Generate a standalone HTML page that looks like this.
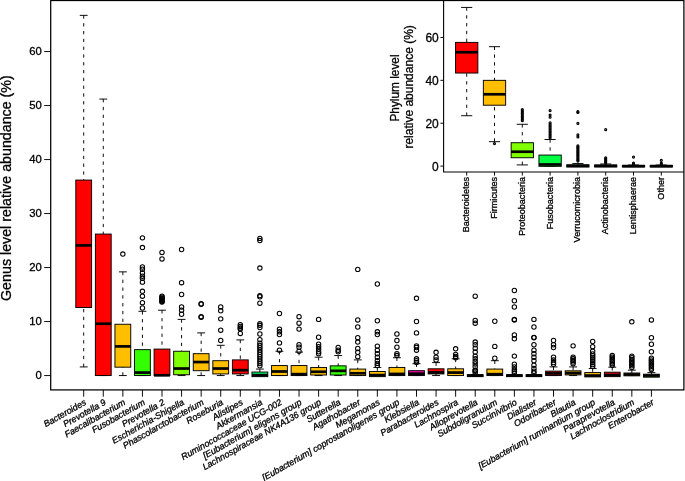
<!DOCTYPE html>
<html><head><meta charset="utf-8"><title>Genus level relative abundance</title>
<style>
html,body{margin:0;padding:0;background:#fff;}
body{width:685px;height:481px;overflow:hidden;position:relative;font-family:"Liberation Sans",sans-serif;}
svg text{font-family:"Liberation Sans",sans-serif;fill:#000;stroke:#000;stroke-width:0.3px;}
</style></head><body>
<svg width="685" height="481" viewBox="0 0 685 481" style="position:absolute;left:0;top:0;will-change:transform">
<rect width="685" height="481" fill="#fff"/>
<line x1="83.70" y1="15.37" x2="83.70" y2="180.07" stroke="#000" stroke-width="0.95" stroke-dasharray="3.3 4.5"/>
<line x1="83.70" y1="366.91" x2="83.70" y2="307.51" stroke="#000" stroke-width="0.95" stroke-dasharray="3.3 4.5"/>
<line x1="79.75" y1="15.37" x2="87.65" y2="15.37" stroke="#000" stroke-width="0.95"/>
<line x1="79.75" y1="366.91" x2="87.65" y2="366.91" stroke="#000" stroke-width="0.95"/>
<rect x="75.80" y="180.07" width="15.80" height="127.44" fill="#FF0000" stroke="#000" stroke-width="0.95"/>
<line x1="75.80" y1="245.41" x2="91.60" y2="245.41" stroke="#000" stroke-width="2.7"/>
<line x1="103.28" y1="99.07" x2="103.28" y2="234.07" stroke="#000" stroke-width="0.95" stroke-dasharray="3.3 4.5"/>
<line x1="99.33" y1="99.07" x2="107.23" y2="99.07" stroke="#000" stroke-width="0.95"/>
<line x1="99.33" y1="375.55" x2="107.23" y2="375.55" stroke="#000" stroke-width="0.95"/>
<rect x="95.38" y="234.07" width="15.80" height="141.48" fill="#FF0000" stroke="#000" stroke-width="0.95"/>
<line x1="95.38" y1="323.71" x2="111.18" y2="323.71" stroke="#000" stroke-width="2.7"/>
<line x1="122.85" y1="271.87" x2="122.85" y2="324.25" stroke="#000" stroke-width="0.95" stroke-dasharray="3.3 4.5"/>
<line x1="122.85" y1="375.55" x2="122.85" y2="367.18" stroke="#000" stroke-width="0.95" stroke-dasharray="3.3 4.5"/>
<line x1="118.90" y1="271.87" x2="126.80" y2="271.87" stroke="#000" stroke-width="0.95"/>
<line x1="118.90" y1="375.55" x2="126.80" y2="375.55" stroke="#000" stroke-width="0.95"/>
<rect x="114.95" y="324.25" width="15.80" height="42.93" fill="#FFBF00" stroke="#000" stroke-width="0.95"/>
<line x1="114.95" y1="346.39" x2="130.75" y2="346.39" stroke="#000" stroke-width="2.7"/>
<circle cx="122.85" cy="254.05" r="2.2" fill="none" stroke="#000" stroke-width="1.05"/>
<line x1="142.43" y1="311.29" x2="142.43" y2="349.63" stroke="#000" stroke-width="0.95" stroke-dasharray="3.3 4.5"/>
<line x1="138.48" y1="311.29" x2="146.38" y2="311.29" stroke="#000" stroke-width="0.95"/>
<line x1="138.48" y1="375.55" x2="146.38" y2="375.55" stroke="#000" stroke-width="0.95"/>
<rect x="134.53" y="349.63" width="15.80" height="25.92" fill="#33FF00" stroke="#000" stroke-width="0.95"/>
<line x1="134.53" y1="372.58" x2="150.33" y2="372.58" stroke="#000" stroke-width="2.7"/>
<circle cx="142.43" cy="237.85" r="2.2" fill="none" stroke="#000" stroke-width="1.05"/>
<circle cx="142.43" cy="247.57" r="2.2" fill="none" stroke="#000" stroke-width="1.05"/>
<circle cx="142.43" cy="267.01" r="2.2" fill="none" stroke="#000" stroke-width="1.05"/>
<circle cx="142.43" cy="269.17" r="2.2" fill="none" stroke="#000" stroke-width="1.05"/>
<circle cx="142.43" cy="272.95" r="2.2" fill="none" stroke="#000" stroke-width="1.05"/>
<circle cx="142.43" cy="276.19" r="2.2" fill="none" stroke="#000" stroke-width="1.05"/>
<circle cx="142.43" cy="278.35" r="2.2" fill="none" stroke="#000" stroke-width="1.05"/>
<circle cx="142.43" cy="282.13" r="2.2" fill="none" stroke="#000" stroke-width="1.05"/>
<circle cx="142.43" cy="291.31" r="2.2" fill="none" stroke="#000" stroke-width="1.05"/>
<circle cx="142.43" cy="296.17" r="2.2" fill="none" stroke="#000" stroke-width="1.05"/>
<circle cx="142.43" cy="302.65" r="2.2" fill="none" stroke="#000" stroke-width="1.05"/>
<circle cx="142.43" cy="308.05" r="2.2" fill="none" stroke="#000" stroke-width="1.05"/>
<line x1="162.00" y1="310.21" x2="162.00" y2="349.09" stroke="#000" stroke-width="0.95" stroke-dasharray="3.3 4.5"/>
<line x1="158.05" y1="310.21" x2="165.95" y2="310.21" stroke="#000" stroke-width="0.95"/>
<line x1="158.05" y1="375.55" x2="165.95" y2="375.55" stroke="#000" stroke-width="0.95"/>
<rect x="154.10" y="349.09" width="15.80" height="26.46" fill="#FF0000" stroke="#000" stroke-width="0.95"/>
<line x1="154.10" y1="375.28" x2="169.90" y2="375.28" stroke="#000" stroke-width="2.7"/>
<circle cx="162.00" cy="252.43" r="2.2" fill="none" stroke="#000" stroke-width="1.05"/>
<circle cx="162.00" cy="258.91" r="2.2" fill="none" stroke="#000" stroke-width="1.05"/>
<circle cx="162.00" cy="296.17" r="2.2" fill="none" stroke="#000" stroke-width="1.05"/>
<circle cx="162.00" cy="297.25" r="2.2" fill="none" stroke="#000" stroke-width="1.05"/>
<circle cx="162.00" cy="298.33" r="2.2" fill="none" stroke="#000" stroke-width="1.05"/>
<circle cx="162.00" cy="299.41" r="2.2" fill="none" stroke="#000" stroke-width="1.05"/>
<circle cx="162.00" cy="300.49" r="2.2" fill="none" stroke="#000" stroke-width="1.05"/>
<circle cx="162.00" cy="301.57" r="2.2" fill="none" stroke="#000" stroke-width="1.05"/>
<circle cx="162.00" cy="302.11" r="2.2" fill="none" stroke="#000" stroke-width="1.05"/>
<line x1="181.58" y1="319.39" x2="181.58" y2="351.25" stroke="#000" stroke-width="0.95" stroke-dasharray="3.3 4.5"/>
<line x1="181.58" y1="375.55" x2="181.58" y2="374.74" stroke="#000" stroke-width="0.95" stroke-dasharray="3.3 4.5"/>
<line x1="177.63" y1="319.39" x2="185.53" y2="319.39" stroke="#000" stroke-width="0.95"/>
<line x1="177.63" y1="375.55" x2="185.53" y2="375.55" stroke="#000" stroke-width="0.95"/>
<rect x="173.68" y="351.25" width="15.80" height="23.49" fill="#80FF00" stroke="#000" stroke-width="0.95"/>
<line x1="173.68" y1="368.53" x2="189.48" y2="368.53" stroke="#000" stroke-width="2.7"/>
<circle cx="181.58" cy="249.46" r="2.2" fill="none" stroke="#000" stroke-width="1.05"/>
<circle cx="181.58" cy="282.67" r="2.2" fill="none" stroke="#000" stroke-width="1.05"/>
<circle cx="181.58" cy="294.55" r="2.2" fill="none" stroke="#000" stroke-width="1.05"/>
<circle cx="181.58" cy="306.97" r="2.2" fill="none" stroke="#000" stroke-width="1.05"/>
<circle cx="181.58" cy="310.21" r="2.2" fill="none" stroke="#000" stroke-width="1.05"/>
<circle cx="181.58" cy="314.26" r="2.2" fill="none" stroke="#000" stroke-width="1.05"/>
<line x1="201.16" y1="332.89" x2="201.16" y2="353.68" stroke="#000" stroke-width="0.95" stroke-dasharray="3.3 4.5"/>
<line x1="201.16" y1="375.55" x2="201.16" y2="370.69" stroke="#000" stroke-width="0.95" stroke-dasharray="3.3 4.5"/>
<line x1="197.21" y1="332.89" x2="205.11" y2="332.89" stroke="#000" stroke-width="0.95"/>
<line x1="197.21" y1="375.55" x2="205.11" y2="375.55" stroke="#000" stroke-width="0.95"/>
<rect x="193.26" y="353.68" width="15.80" height="17.01" fill="#FFBF00" stroke="#000" stroke-width="0.95"/>
<line x1="193.26" y1="362.05" x2="209.06" y2="362.05" stroke="#000" stroke-width="2.7"/>
<circle cx="201.16" cy="303.73" r="2.2" fill="none" stroke="#000" stroke-width="1.05"/>
<circle cx="201.16" cy="304.27" r="2.2" fill="none" stroke="#000" stroke-width="1.05"/>
<circle cx="201.16" cy="316.69" r="2.2" fill="none" stroke="#000" stroke-width="1.05"/>
<circle cx="201.16" cy="317.23" r="2.2" fill="none" stroke="#000" stroke-width="1.05"/>
<line x1="220.73" y1="345.31" x2="220.73" y2="360.70" stroke="#000" stroke-width="0.95" stroke-dasharray="3.3 4.5"/>
<line x1="220.73" y1="375.55" x2="220.73" y2="373.93" stroke="#000" stroke-width="0.95" stroke-dasharray="3.3 4.5"/>
<line x1="216.78" y1="345.31" x2="224.68" y2="345.31" stroke="#000" stroke-width="0.95"/>
<line x1="216.78" y1="375.55" x2="224.68" y2="375.55" stroke="#000" stroke-width="0.95"/>
<rect x="212.83" y="360.70" width="15.80" height="13.23" fill="#FFBF00" stroke="#000" stroke-width="0.95"/>
<line x1="212.83" y1="368.53" x2="228.63" y2="368.53" stroke="#000" stroke-width="2.7"/>
<circle cx="220.73" cy="306.97" r="2.2" fill="none" stroke="#000" stroke-width="1.05"/>
<circle cx="220.73" cy="310.75" r="2.2" fill="none" stroke="#000" stroke-width="1.05"/>
<circle cx="220.73" cy="318.85" r="2.2" fill="none" stroke="#000" stroke-width="1.05"/>
<circle cx="220.73" cy="330.19" r="2.2" fill="none" stroke="#000" stroke-width="1.05"/>
<circle cx="220.73" cy="340.45" r="2.2" fill="none" stroke="#000" stroke-width="1.05"/>
<line x1="240.31" y1="339.91" x2="240.31" y2="359.89" stroke="#000" stroke-width="0.95" stroke-dasharray="3.3 4.5"/>
<line x1="240.31" y1="375.55" x2="240.31" y2="373.93" stroke="#000" stroke-width="0.95" stroke-dasharray="3.3 4.5"/>
<line x1="236.36" y1="339.91" x2="244.26" y2="339.91" stroke="#000" stroke-width="0.95"/>
<line x1="236.36" y1="375.55" x2="244.26" y2="375.55" stroke="#000" stroke-width="0.95"/>
<rect x="232.41" y="359.89" width="15.80" height="14.04" fill="#FF0000" stroke="#000" stroke-width="0.95"/>
<line x1="232.41" y1="370.15" x2="248.21" y2="370.15" stroke="#000" stroke-width="2.7"/>
<circle cx="240.31" cy="324.79" r="2.2" fill="none" stroke="#000" stroke-width="1.05"/>
<circle cx="240.31" cy="326.41" r="2.2" fill="none" stroke="#000" stroke-width="1.05"/>
<circle cx="240.31" cy="328.03" r="2.2" fill="none" stroke="#000" stroke-width="1.05"/>
<circle cx="240.31" cy="329.11" r="2.2" fill="none" stroke="#000" stroke-width="1.05"/>
<circle cx="240.31" cy="333.43" r="2.2" fill="none" stroke="#000" stroke-width="1.05"/>
<line x1="259.88" y1="369.07" x2="259.88" y2="372.04" stroke="#000" stroke-width="0.95" stroke-dasharray="3.3 4.5"/>
<line x1="255.93" y1="369.07" x2="263.83" y2="369.07" stroke="#000" stroke-width="0.95"/>
<line x1="255.93" y1="375.55" x2="263.83" y2="375.55" stroke="#000" stroke-width="0.95"/>
<rect x="251.98" y="372.04" width="15.80" height="4.59" fill="#00FF66" stroke="#000" stroke-width="0.95"/>
<line x1="251.98" y1="375.12" x2="267.78" y2="375.12" stroke="#000" stroke-width="2.7"/>
<circle cx="259.88" cy="238.39" r="2.2" fill="none" stroke="#000" stroke-width="1.05"/>
<circle cx="259.88" cy="240.55" r="2.2" fill="none" stroke="#000" stroke-width="1.05"/>
<circle cx="259.88" cy="268.09" r="2.2" fill="none" stroke="#000" stroke-width="1.05"/>
<circle cx="259.88" cy="295.63" r="2.2" fill="none" stroke="#000" stroke-width="1.05"/>
<circle cx="259.88" cy="296.71" r="2.2" fill="none" stroke="#000" stroke-width="1.05"/>
<circle cx="259.88" cy="303.19" r="2.2" fill="none" stroke="#000" stroke-width="1.05"/>
<circle cx="259.88" cy="323.71" r="2.2" fill="none" stroke="#000" stroke-width="1.05"/>
<circle cx="259.88" cy="325.33" r="2.2" fill="none" stroke="#000" stroke-width="1.05"/>
<circle cx="259.88" cy="327.49" r="2.2" fill="none" stroke="#000" stroke-width="1.05"/>
<circle cx="259.88" cy="333.97" r="2.2" fill="none" stroke="#000" stroke-width="1.05"/>
<circle cx="259.88" cy="339.64" r="2.2" fill="none" stroke="#000" stroke-width="1.05"/>
<circle cx="259.88" cy="343.15" r="2.2" fill="none" stroke="#000" stroke-width="1.05"/>
<circle cx="259.88" cy="345.42" r="2.2" fill="none" stroke="#000" stroke-width="1.05"/>
<circle cx="259.88" cy="347.69" r="2.2" fill="none" stroke="#000" stroke-width="1.05"/>
<circle cx="259.88" cy="349.95" r="2.2" fill="none" stroke="#000" stroke-width="1.05"/>
<circle cx="259.88" cy="352.22" r="2.2" fill="none" stroke="#000" stroke-width="1.05"/>
<circle cx="259.88" cy="354.49" r="2.2" fill="none" stroke="#000" stroke-width="1.05"/>
<circle cx="259.88" cy="356.76" r="2.2" fill="none" stroke="#000" stroke-width="1.05"/>
<circle cx="259.88" cy="359.03" r="2.2" fill="none" stroke="#000" stroke-width="1.05"/>
<circle cx="259.88" cy="361.29" r="2.2" fill="none" stroke="#000" stroke-width="1.05"/>
<circle cx="259.88" cy="363.56" r="2.2" fill="none" stroke="#000" stroke-width="1.05"/>
<circle cx="259.88" cy="365.83" r="2.2" fill="none" stroke="#000" stroke-width="1.05"/>
<line x1="279.46" y1="351.25" x2="279.46" y2="365.56" stroke="#000" stroke-width="0.95" stroke-dasharray="3.3 4.5"/>
<line x1="275.51" y1="351.25" x2="283.41" y2="351.25" stroke="#000" stroke-width="0.95"/>
<line x1="275.51" y1="375.55" x2="283.41" y2="375.55" stroke="#000" stroke-width="0.95"/>
<rect x="271.56" y="365.56" width="15.80" height="9.99" fill="#FFBF00" stroke="#000" stroke-width="0.95"/>
<line x1="271.56" y1="371.50" x2="287.36" y2="371.50" stroke="#000" stroke-width="2.7"/>
<circle cx="279.46" cy="313.45" r="2.2" fill="none" stroke="#000" stroke-width="1.05"/>
<circle cx="279.46" cy="329.11" r="2.2" fill="none" stroke="#000" stroke-width="1.05"/>
<circle cx="279.46" cy="331.81" r="2.2" fill="none" stroke="#000" stroke-width="1.05"/>
<circle cx="279.46" cy="334.51" r="2.2" fill="none" stroke="#000" stroke-width="1.05"/>
<circle cx="279.46" cy="342.88" r="2.2" fill="none" stroke="#000" stroke-width="1.05"/>
<circle cx="279.46" cy="350.17" r="2.2" fill="none" stroke="#000" stroke-width="1.05"/>
<line x1="299.04" y1="352.06" x2="299.04" y2="365.56" stroke="#000" stroke-width="0.95" stroke-dasharray="3.3 4.5"/>
<line x1="295.09" y1="352.06" x2="302.99" y2="352.06" stroke="#000" stroke-width="0.95"/>
<line x1="295.09" y1="375.55" x2="302.99" y2="375.55" stroke="#000" stroke-width="0.95"/>
<rect x="291.14" y="365.56" width="15.80" height="9.99" fill="#FFBF00" stroke="#000" stroke-width="0.95"/>
<line x1="291.14" y1="374.15" x2="306.94" y2="374.15" stroke="#000" stroke-width="2.7"/>
<circle cx="299.04" cy="316.69" r="2.2" fill="none" stroke="#000" stroke-width="1.05"/>
<circle cx="299.04" cy="323.17" r="2.2" fill="none" stroke="#000" stroke-width="1.05"/>
<circle cx="299.04" cy="329.11" r="2.2" fill="none" stroke="#000" stroke-width="1.05"/>
<circle cx="299.04" cy="344.77" r="2.2" fill="none" stroke="#000" stroke-width="1.05"/>
<circle cx="299.04" cy="347.20" r="2.2" fill="none" stroke="#000" stroke-width="1.05"/>
<circle cx="299.04" cy="351.25" r="2.2" fill="none" stroke="#000" stroke-width="1.05"/>
<line x1="318.61" y1="357.19" x2="318.61" y2="367.45" stroke="#000" stroke-width="0.95" stroke-dasharray="3.3 4.5"/>
<line x1="318.61" y1="375.55" x2="318.61" y2="375.01" stroke="#000" stroke-width="0.95" stroke-dasharray="3.3 4.5"/>
<line x1="314.66" y1="357.19" x2="322.56" y2="357.19" stroke="#000" stroke-width="0.95"/>
<line x1="314.66" y1="375.55" x2="322.56" y2="375.55" stroke="#000" stroke-width="0.95"/>
<rect x="310.71" y="367.45" width="15.80" height="7.56" fill="#FFBF00" stroke="#000" stroke-width="0.95"/>
<line x1="310.71" y1="371.77" x2="326.51" y2="371.77" stroke="#000" stroke-width="2.7"/>
<circle cx="318.61" cy="319.39" r="2.2" fill="none" stroke="#000" stroke-width="1.05"/>
<circle cx="318.61" cy="337.21" r="2.2" fill="none" stroke="#000" stroke-width="1.05"/>
<circle cx="318.61" cy="344.23" r="2.2" fill="none" stroke="#000" stroke-width="1.05"/>
<circle cx="318.61" cy="346.66" r="2.2" fill="none" stroke="#000" stroke-width="1.05"/>
<circle cx="318.61" cy="349.09" r="2.2" fill="none" stroke="#000" stroke-width="1.05"/>
<circle cx="318.61" cy="351.79" r="2.2" fill="none" stroke="#000" stroke-width="1.05"/>
<circle cx="318.61" cy="353.68" r="2.2" fill="none" stroke="#000" stroke-width="1.05"/>
<line x1="338.19" y1="355.57" x2="338.19" y2="365.83" stroke="#000" stroke-width="0.95" stroke-dasharray="3.3 4.5"/>
<line x1="338.19" y1="375.55" x2="338.19" y2="375.01" stroke="#000" stroke-width="0.95" stroke-dasharray="3.3 4.5"/>
<line x1="334.24" y1="355.57" x2="342.14" y2="355.57" stroke="#000" stroke-width="0.95"/>
<line x1="334.24" y1="375.55" x2="342.14" y2="375.55" stroke="#000" stroke-width="0.95"/>
<rect x="330.29" y="365.83" width="15.80" height="9.18" fill="#33FF00" stroke="#000" stroke-width="0.95"/>
<line x1="330.29" y1="370.85" x2="346.09" y2="370.85" stroke="#000" stroke-width="2.7"/>
<circle cx="338.19" cy="347.47" r="2.2" fill="none" stroke="#000" stroke-width="1.05"/>
<circle cx="338.19" cy="350.17" r="2.2" fill="none" stroke="#000" stroke-width="1.05"/>
<circle cx="338.19" cy="351.79" r="2.2" fill="none" stroke="#000" stroke-width="1.05"/>
<line x1="357.76" y1="359.89" x2="357.76" y2="369.07" stroke="#000" stroke-width="0.95" stroke-dasharray="3.3 4.5"/>
<line x1="353.81" y1="359.89" x2="361.71" y2="359.89" stroke="#000" stroke-width="0.95"/>
<line x1="353.81" y1="375.55" x2="361.71" y2="375.55" stroke="#000" stroke-width="0.95"/>
<rect x="349.86" y="369.07" width="15.80" height="6.48" fill="#FFBF00" stroke="#000" stroke-width="0.95"/>
<line x1="349.86" y1="373.28" x2="365.66" y2="373.28" stroke="#000" stroke-width="2.7"/>
<circle cx="357.76" cy="269.39" r="2.2" fill="none" stroke="#000" stroke-width="1.05"/>
<circle cx="357.76" cy="319.93" r="2.2" fill="none" stroke="#000" stroke-width="1.05"/>
<circle cx="357.76" cy="326.95" r="2.2" fill="none" stroke="#000" stroke-width="1.05"/>
<circle cx="357.76" cy="337.75" r="2.2" fill="none" stroke="#000" stroke-width="1.05"/>
<circle cx="357.76" cy="342.07" r="2.2" fill="none" stroke="#000" stroke-width="1.05"/>
<circle cx="357.76" cy="348.55" r="2.2" fill="none" stroke="#000" stroke-width="1.05"/>
<circle cx="357.76" cy="352.33" r="2.2" fill="none" stroke="#000" stroke-width="1.05"/>
<circle cx="357.76" cy="356.65" r="2.2" fill="none" stroke="#000" stroke-width="1.05"/>
<line x1="377.34" y1="367.45" x2="377.34" y2="371.50" stroke="#000" stroke-width="0.95" stroke-dasharray="3.3 4.5"/>
<line x1="373.39" y1="367.45" x2="381.29" y2="367.45" stroke="#000" stroke-width="0.95"/>
<line x1="373.39" y1="375.55" x2="381.29" y2="375.55" stroke="#000" stroke-width="0.95"/>
<rect x="369.44" y="371.50" width="15.80" height="5.13" fill="#FFBF00" stroke="#000" stroke-width="0.95"/>
<line x1="369.44" y1="375.12" x2="385.24" y2="375.12" stroke="#000" stroke-width="2.7"/>
<circle cx="377.34" cy="284.02" r="2.2" fill="none" stroke="#000" stroke-width="1.05"/>
<circle cx="377.34" cy="320.74" r="2.2" fill="none" stroke="#000" stroke-width="1.05"/>
<circle cx="377.34" cy="331.81" r="2.2" fill="none" stroke="#000" stroke-width="1.05"/>
<circle cx="377.34" cy="334.51" r="2.2" fill="none" stroke="#000" stroke-width="1.05"/>
<circle cx="377.34" cy="346.12" r="2.2" fill="none" stroke="#000" stroke-width="1.05"/>
<circle cx="377.34" cy="350.17" r="2.2" fill="none" stroke="#000" stroke-width="1.05"/>
<circle cx="377.34" cy="353.68" r="2.2" fill="none" stroke="#000" stroke-width="1.05"/>
<circle cx="377.34" cy="357.19" r="2.2" fill="none" stroke="#000" stroke-width="1.05"/>
<circle cx="377.34" cy="360.70" r="2.2" fill="none" stroke="#000" stroke-width="1.05"/>
<circle cx="377.34" cy="363.40" r="2.2" fill="none" stroke="#000" stroke-width="1.05"/>
<circle cx="377.34" cy="365.56" r="2.2" fill="none" stroke="#000" stroke-width="1.05"/>
<line x1="396.92" y1="357.73" x2="396.92" y2="367.45" stroke="#000" stroke-width="0.95" stroke-dasharray="3.3 4.5"/>
<line x1="392.97" y1="357.73" x2="400.87" y2="357.73" stroke="#000" stroke-width="0.95"/>
<line x1="392.97" y1="375.55" x2="400.87" y2="375.55" stroke="#000" stroke-width="0.95"/>
<rect x="389.02" y="367.45" width="15.80" height="8.10" fill="#FFBF00" stroke="#000" stroke-width="0.95"/>
<line x1="389.02" y1="373.93" x2="404.82" y2="373.93" stroke="#000" stroke-width="2.7"/>
<circle cx="396.92" cy="333.97" r="2.2" fill="none" stroke="#000" stroke-width="1.05"/>
<circle cx="396.92" cy="340.45" r="2.2" fill="none" stroke="#000" stroke-width="1.05"/>
<circle cx="396.92" cy="347.20" r="2.2" fill="none" stroke="#000" stroke-width="1.05"/>
<circle cx="396.92" cy="353.68" r="2.2" fill="none" stroke="#000" stroke-width="1.05"/>
<circle cx="396.92" cy="355.57" r="2.2" fill="none" stroke="#000" stroke-width="1.05"/>
<line x1="416.49" y1="363.67" x2="416.49" y2="370.69" stroke="#000" stroke-width="0.95" stroke-dasharray="3.3 4.5"/>
<line x1="412.54" y1="363.67" x2="420.44" y2="363.67" stroke="#000" stroke-width="0.95"/>
<line x1="412.54" y1="375.55" x2="420.44" y2="375.55" stroke="#000" stroke-width="0.95"/>
<rect x="408.59" y="370.69" width="15.80" height="4.86" fill="#FF00AA" stroke="#000" stroke-width="0.95"/>
<line x1="408.59" y1="373.66" x2="424.39" y2="373.66" stroke="#000" stroke-width="2.7"/>
<circle cx="416.49" cy="298.33" r="2.2" fill="none" stroke="#000" stroke-width="1.05"/>
<circle cx="416.49" cy="321.55" r="2.2" fill="none" stroke="#000" stroke-width="1.05"/>
<circle cx="416.49" cy="332.89" r="2.2" fill="none" stroke="#000" stroke-width="1.05"/>
<circle cx="416.49" cy="345.85" r="2.2" fill="none" stroke="#000" stroke-width="1.05"/>
<circle cx="416.49" cy="347.47" r="2.2" fill="none" stroke="#000" stroke-width="1.05"/>
<circle cx="416.49" cy="350.17" r="2.2" fill="none" stroke="#000" stroke-width="1.05"/>
<circle cx="416.49" cy="358.81" r="2.2" fill="none" stroke="#000" stroke-width="1.05"/>
<circle cx="416.49" cy="360.70" r="2.2" fill="none" stroke="#000" stroke-width="1.05"/>
<circle cx="416.49" cy="362.59" r="2.2" fill="none" stroke="#000" stroke-width="1.05"/>
<line x1="436.07" y1="362.59" x2="436.07" y2="368.80" stroke="#000" stroke-width="0.95" stroke-dasharray="3.3 4.5"/>
<line x1="436.07" y1="375.55" x2="436.07" y2="373.93" stroke="#000" stroke-width="0.95" stroke-dasharray="3.3 4.5"/>
<line x1="432.12" y1="362.59" x2="440.02" y2="362.59" stroke="#000" stroke-width="0.95"/>
<line x1="432.12" y1="375.55" x2="440.02" y2="375.55" stroke="#000" stroke-width="0.95"/>
<rect x="428.17" y="368.80" width="15.80" height="5.13" fill="#FF0000" stroke="#000" stroke-width="0.95"/>
<line x1="428.17" y1="372.42" x2="443.97" y2="372.42" stroke="#000" stroke-width="2.7"/>
<circle cx="436.07" cy="352.33" r="2.2" fill="none" stroke="#000" stroke-width="1.05"/>
<circle cx="436.07" cy="357.19" r="2.2" fill="none" stroke="#000" stroke-width="1.05"/>
<circle cx="436.07" cy="359.89" r="2.2" fill="none" stroke="#000" stroke-width="1.05"/>
<line x1="455.64" y1="358.81" x2="455.64" y2="368.80" stroke="#000" stroke-width="0.95" stroke-dasharray="3.3 4.5"/>
<line x1="451.69" y1="358.81" x2="459.59" y2="358.81" stroke="#000" stroke-width="0.95"/>
<line x1="451.69" y1="375.55" x2="459.59" y2="375.55" stroke="#000" stroke-width="0.95"/>
<rect x="447.74" y="368.80" width="15.80" height="6.75" fill="#FFBF00" stroke="#000" stroke-width="0.95"/>
<line x1="447.74" y1="372.58" x2="463.54" y2="372.58" stroke="#000" stroke-width="2.7"/>
<circle cx="455.64" cy="348.82" r="2.2" fill="none" stroke="#000" stroke-width="1.05"/>
<circle cx="455.64" cy="354.49" r="2.2" fill="none" stroke="#000" stroke-width="1.05"/>
<circle cx="455.64" cy="356.38" r="2.2" fill="none" stroke="#000" stroke-width="1.05"/>
<circle cx="455.64" cy="357.73" r="2.2" fill="none" stroke="#000" stroke-width="1.05"/>
<line x1="471.27" y1="374.74" x2="479.17" y2="374.74" stroke="#000" stroke-width="0.95"/>
<line x1="471.27" y1="375.55" x2="479.17" y2="375.55" stroke="#000" stroke-width="0.95"/>
<rect x="467.32" y="374.74" width="15.80" height="1.89" fill="#FF0000" stroke="#000" stroke-width="0.95"/>
<line x1="467.32" y1="375.55" x2="483.12" y2="375.55" stroke="#000" stroke-width="2.7"/>
<circle cx="475.22" cy="296.17" r="2.2" fill="none" stroke="#000" stroke-width="1.05"/>
<circle cx="475.22" cy="320.47" r="2.2" fill="none" stroke="#000" stroke-width="1.05"/>
<circle cx="475.22" cy="323.17" r="2.2" fill="none" stroke="#000" stroke-width="1.05"/>
<circle cx="475.22" cy="342.07" r="2.2" fill="none" stroke="#000" stroke-width="1.05"/>
<circle cx="475.22" cy="344.77" r="2.2" fill="none" stroke="#000" stroke-width="1.05"/>
<circle cx="475.22" cy="348.28" r="2.2" fill="none" stroke="#000" stroke-width="1.05"/>
<circle cx="475.22" cy="352.06" r="2.2" fill="none" stroke="#000" stroke-width="1.05"/>
<circle cx="475.22" cy="356.11" r="2.2" fill="none" stroke="#000" stroke-width="1.05"/>
<circle cx="475.22" cy="358.81" r="2.2" fill="none" stroke="#000" stroke-width="1.05"/>
<circle cx="475.22" cy="361.51" r="2.2" fill="none" stroke="#000" stroke-width="1.05"/>
<circle cx="475.22" cy="363.94" r="2.2" fill="none" stroke="#000" stroke-width="1.05"/>
<circle cx="475.22" cy="366.64" r="2.2" fill="none" stroke="#000" stroke-width="1.05"/>
<circle cx="475.22" cy="370.15" r="2.2" fill="none" stroke="#000" stroke-width="1.05"/>
<circle cx="475.22" cy="370.42" r="2.2" fill="none" stroke="#000" stroke-width="1.05"/>
<circle cx="475.22" cy="371.23" r="2.2" fill="none" stroke="#000" stroke-width="1.05"/>
<circle cx="475.22" cy="372.85" r="2.2" fill="none" stroke="#000" stroke-width="1.05"/>
<line x1="494.80" y1="360.70" x2="494.80" y2="369.07" stroke="#000" stroke-width="0.95" stroke-dasharray="3.3 4.5"/>
<line x1="490.85" y1="360.70" x2="498.75" y2="360.70" stroke="#000" stroke-width="0.95"/>
<line x1="490.85" y1="375.55" x2="498.75" y2="375.55" stroke="#000" stroke-width="0.95"/>
<rect x="486.90" y="369.07" width="15.80" height="6.48" fill="#FFBF00" stroke="#000" stroke-width="0.95"/>
<line x1="486.90" y1="374.20" x2="502.70" y2="374.20" stroke="#000" stroke-width="2.7"/>
<circle cx="494.80" cy="321.28" r="2.2" fill="none" stroke="#000" stroke-width="1.05"/>
<circle cx="494.80" cy="346.39" r="2.2" fill="none" stroke="#000" stroke-width="1.05"/>
<circle cx="494.80" cy="358.27" r="2.2" fill="none" stroke="#000" stroke-width="1.05"/>
<line x1="510.42" y1="374.74" x2="518.32" y2="374.74" stroke="#000" stroke-width="0.95"/>
<line x1="510.42" y1="375.55" x2="518.32" y2="375.55" stroke="#000" stroke-width="0.95"/>
<rect x="506.47" y="374.74" width="15.80" height="1.89" fill="#80FF00" stroke="#000" stroke-width="0.95"/>
<line x1="506.47" y1="375.55" x2="522.27" y2="375.55" stroke="#000" stroke-width="2.7"/>
<circle cx="514.37" cy="290.50" r="2.2" fill="none" stroke="#000" stroke-width="1.05"/>
<circle cx="514.37" cy="300.76" r="2.2" fill="none" stroke="#000" stroke-width="1.05"/>
<circle cx="514.37" cy="306.97" r="2.2" fill="none" stroke="#000" stroke-width="1.05"/>
<circle cx="514.37" cy="319.39" r="2.2" fill="none" stroke="#000" stroke-width="1.05"/>
<circle cx="514.37" cy="319.93" r="2.2" fill="none" stroke="#000" stroke-width="1.05"/>
<circle cx="514.37" cy="335.05" r="2.2" fill="none" stroke="#000" stroke-width="1.05"/>
<circle cx="514.37" cy="338.83" r="2.2" fill="none" stroke="#000" stroke-width="1.05"/>
<circle cx="514.37" cy="356.11" r="2.2" fill="none" stroke="#000" stroke-width="1.05"/>
<circle cx="514.37" cy="364.21" r="2.2" fill="none" stroke="#000" stroke-width="1.05"/>
<circle cx="514.37" cy="366.91" r="2.2" fill="none" stroke="#000" stroke-width="1.05"/>
<circle cx="514.37" cy="369.61" r="2.2" fill="none" stroke="#000" stroke-width="1.05"/>
<circle cx="514.37" cy="371.23" r="2.2" fill="none" stroke="#000" stroke-width="1.05"/>
<circle cx="514.37" cy="372.85" r="2.2" fill="none" stroke="#000" stroke-width="1.05"/>
<line x1="530.00" y1="374.74" x2="537.90" y2="374.74" stroke="#000" stroke-width="0.95"/>
<line x1="530.00" y1="375.55" x2="537.90" y2="375.55" stroke="#000" stroke-width="0.95"/>
<rect x="526.05" y="374.74" width="15.80" height="1.89" fill="#FFBF00" stroke="#000" stroke-width="0.95"/>
<line x1="526.05" y1="375.55" x2="541.85" y2="375.55" stroke="#000" stroke-width="2.7"/>
<circle cx="533.95" cy="319.39" r="2.2" fill="none" stroke="#000" stroke-width="1.05"/>
<circle cx="533.95" cy="326.95" r="2.2" fill="none" stroke="#000" stroke-width="1.05"/>
<circle cx="533.95" cy="337.37" r="2.2" fill="none" stroke="#000" stroke-width="1.05"/>
<circle cx="533.95" cy="337.75" r="2.2" fill="none" stroke="#000" stroke-width="1.05"/>
<circle cx="533.95" cy="344.77" r="2.2" fill="none" stroke="#000" stroke-width="1.05"/>
<circle cx="533.95" cy="350.17" r="2.2" fill="none" stroke="#000" stroke-width="1.05"/>
<circle cx="533.95" cy="353.68" r="2.2" fill="none" stroke="#000" stroke-width="1.05"/>
<circle cx="533.95" cy="357.19" r="2.2" fill="none" stroke="#000" stroke-width="1.05"/>
<circle cx="533.95" cy="360.70" r="2.2" fill="none" stroke="#000" stroke-width="1.05"/>
<circle cx="533.95" cy="365.29" r="2.2" fill="none" stroke="#000" stroke-width="1.05"/>
<circle cx="533.95" cy="368.53" r="2.2" fill="none" stroke="#000" stroke-width="1.05"/>
<circle cx="533.95" cy="371.23" r="2.2" fill="none" stroke="#000" stroke-width="1.05"/>
<circle cx="533.95" cy="372.85" r="2.2" fill="none" stroke="#000" stroke-width="1.05"/>
<line x1="553.52" y1="366.91" x2="553.52" y2="371.12" stroke="#000" stroke-width="0.95" stroke-dasharray="3.3 4.5"/>
<line x1="549.57" y1="366.91" x2="557.47" y2="366.91" stroke="#000" stroke-width="0.95"/>
<line x1="549.57" y1="375.55" x2="557.47" y2="375.55" stroke="#000" stroke-width="0.95"/>
<rect x="545.62" y="371.12" width="15.80" height="4.43" fill="#FF0000" stroke="#000" stroke-width="0.95"/>
<line x1="545.62" y1="373.39" x2="561.42" y2="373.39" stroke="#000" stroke-width="2.7"/>
<circle cx="553.52" cy="340.45" r="2.2" fill="none" stroke="#000" stroke-width="1.05"/>
<circle cx="553.52" cy="344.77" r="2.2" fill="none" stroke="#000" stroke-width="1.05"/>
<circle cx="553.52" cy="347.47" r="2.2" fill="none" stroke="#000" stroke-width="1.05"/>
<circle cx="553.52" cy="357.19" r="2.2" fill="none" stroke="#000" stroke-width="1.05"/>
<circle cx="553.52" cy="359.89" r="2.2" fill="none" stroke="#000" stroke-width="1.05"/>
<circle cx="553.52" cy="362.59" r="2.2" fill="none" stroke="#000" stroke-width="1.05"/>
<circle cx="553.52" cy="364.21" r="2.2" fill="none" stroke="#000" stroke-width="1.05"/>
<line x1="573.10" y1="366.91" x2="573.10" y2="370.80" stroke="#000" stroke-width="0.95" stroke-dasharray="3.3 4.5"/>
<line x1="573.10" y1="375.55" x2="573.10" y2="374.90" stroke="#000" stroke-width="0.95" stroke-dasharray="3.3 4.5"/>
<line x1="569.15" y1="366.91" x2="577.05" y2="366.91" stroke="#000" stroke-width="0.95"/>
<line x1="569.15" y1="375.55" x2="577.05" y2="375.55" stroke="#000" stroke-width="0.95"/>
<rect x="565.20" y="370.80" width="15.80" height="4.10" fill="#FFBF00" stroke="#000" stroke-width="0.95"/>
<line x1="565.20" y1="373.01" x2="581.00" y2="373.01" stroke="#000" stroke-width="2.7"/>
<circle cx="573.10" cy="345.85" r="2.2" fill="none" stroke="#000" stroke-width="1.05"/>
<circle cx="573.10" cy="357.19" r="2.2" fill="none" stroke="#000" stroke-width="1.05"/>
<circle cx="573.10" cy="358.81" r="2.2" fill="none" stroke="#000" stroke-width="1.05"/>
<circle cx="573.10" cy="360.43" r="2.2" fill="none" stroke="#000" stroke-width="1.05"/>
<circle cx="573.10" cy="362.05" r="2.2" fill="none" stroke="#000" stroke-width="1.05"/>
<circle cx="573.10" cy="363.67" r="2.2" fill="none" stroke="#000" stroke-width="1.05"/>
<line x1="592.68" y1="368.53" x2="592.68" y2="372.58" stroke="#000" stroke-width="0.95" stroke-dasharray="3.3 4.5"/>
<line x1="588.73" y1="368.53" x2="596.63" y2="368.53" stroke="#000" stroke-width="0.95"/>
<line x1="588.73" y1="375.55" x2="596.63" y2="375.55" stroke="#000" stroke-width="0.95"/>
<rect x="584.78" y="372.58" width="15.80" height="4.32" fill="#FFBF00" stroke="#000" stroke-width="0.95"/>
<line x1="584.78" y1="375.55" x2="600.58" y2="375.55" stroke="#000" stroke-width="2.7"/>
<circle cx="592.68" cy="341.53" r="2.2" fill="none" stroke="#000" stroke-width="1.05"/>
<circle cx="592.68" cy="346.66" r="2.2" fill="none" stroke="#000" stroke-width="1.05"/>
<circle cx="592.68" cy="351.25" r="2.2" fill="none" stroke="#000" stroke-width="1.05"/>
<circle cx="592.68" cy="353.95" r="2.2" fill="none" stroke="#000" stroke-width="1.05"/>
<circle cx="592.68" cy="355.73" r="2.2" fill="none" stroke="#000" stroke-width="1.05"/>
<circle cx="592.68" cy="357.51" r="2.2" fill="none" stroke="#000" stroke-width="1.05"/>
<circle cx="592.68" cy="359.30" r="2.2" fill="none" stroke="#000" stroke-width="1.05"/>
<circle cx="592.68" cy="361.08" r="2.2" fill="none" stroke="#000" stroke-width="1.05"/>
<circle cx="592.68" cy="362.86" r="2.2" fill="none" stroke="#000" stroke-width="1.05"/>
<circle cx="592.68" cy="364.64" r="2.2" fill="none" stroke="#000" stroke-width="1.05"/>
<circle cx="592.68" cy="366.42" r="2.2" fill="none" stroke="#000" stroke-width="1.05"/>
<line x1="612.25" y1="367.18" x2="612.25" y2="372.20" stroke="#000" stroke-width="0.95" stroke-dasharray="3.3 4.5"/>
<line x1="608.30" y1="367.18" x2="616.20" y2="367.18" stroke="#000" stroke-width="0.95"/>
<line x1="608.30" y1="375.55" x2="616.20" y2="375.55" stroke="#000" stroke-width="0.95"/>
<rect x="604.35" y="372.20" width="15.80" height="4.43" fill="#FF0000" stroke="#000" stroke-width="0.95"/>
<line x1="604.35" y1="375.01" x2="620.15" y2="375.01" stroke="#000" stroke-width="2.7"/>
<circle cx="612.25" cy="355.57" r="2.2" fill="none" stroke="#000" stroke-width="1.05"/>
<circle cx="612.25" cy="357.19" r="2.2" fill="none" stroke="#000" stroke-width="1.05"/>
<circle cx="612.25" cy="358.81" r="2.2" fill="none" stroke="#000" stroke-width="1.05"/>
<circle cx="612.25" cy="360.43" r="2.2" fill="none" stroke="#000" stroke-width="1.05"/>
<circle cx="612.25" cy="362.05" r="2.2" fill="none" stroke="#000" stroke-width="1.05"/>
<circle cx="612.25" cy="363.67" r="2.2" fill="none" stroke="#000" stroke-width="1.05"/>
<circle cx="612.25" cy="365.29" r="2.2" fill="none" stroke="#000" stroke-width="1.05"/>
<line x1="631.83" y1="370.15" x2="631.83" y2="373.01" stroke="#000" stroke-width="0.95" stroke-dasharray="3.3 4.5"/>
<line x1="627.88" y1="370.15" x2="635.78" y2="370.15" stroke="#000" stroke-width="0.95"/>
<line x1="627.88" y1="375.55" x2="635.78" y2="375.55" stroke="#000" stroke-width="0.95"/>
<rect x="623.93" y="373.01" width="15.80" height="2.81" fill="#FFBF00" stroke="#000" stroke-width="0.95"/>
<line x1="623.93" y1="374.47" x2="639.73" y2="374.47" stroke="#000" stroke-width="2.7"/>
<circle cx="631.83" cy="321.82" r="2.2" fill="none" stroke="#000" stroke-width="1.05"/>
<circle cx="631.83" cy="356.11" r="2.2" fill="none" stroke="#000" stroke-width="1.05"/>
<circle cx="631.83" cy="357.73" r="2.2" fill="none" stroke="#000" stroke-width="1.05"/>
<circle cx="631.83" cy="359.35" r="2.2" fill="none" stroke="#000" stroke-width="1.05"/>
<circle cx="631.83" cy="360.97" r="2.2" fill="none" stroke="#000" stroke-width="1.05"/>
<circle cx="631.83" cy="362.59" r="2.2" fill="none" stroke="#000" stroke-width="1.05"/>
<circle cx="631.83" cy="364.21" r="2.2" fill="none" stroke="#000" stroke-width="1.05"/>
<circle cx="631.83" cy="365.83" r="2.2" fill="none" stroke="#000" stroke-width="1.05"/>
<circle cx="631.83" cy="367.45" r="2.2" fill="none" stroke="#000" stroke-width="1.05"/>
<line x1="651.40" y1="372.58" x2="651.40" y2="374.20" stroke="#000" stroke-width="0.95" stroke-dasharray="3.3 4.5"/>
<line x1="647.45" y1="372.58" x2="655.35" y2="372.58" stroke="#000" stroke-width="0.95"/>
<line x1="647.45" y1="375.55" x2="655.35" y2="375.55" stroke="#000" stroke-width="0.95"/>
<rect x="643.50" y="374.20" width="15.80" height="2.97" fill="#80FF00" stroke="#000" stroke-width="0.95"/>
<line x1="643.50" y1="375.55" x2="659.30" y2="375.55" stroke="#000" stroke-width="2.7"/>
<circle cx="651.40" cy="319.93" r="2.2" fill="none" stroke="#000" stroke-width="1.05"/>
<circle cx="651.40" cy="337.75" r="2.2" fill="none" stroke="#000" stroke-width="1.05"/>
<circle cx="651.40" cy="344.23" r="2.2" fill="none" stroke="#000" stroke-width="1.05"/>
<circle cx="651.40" cy="351.79" r="2.2" fill="none" stroke="#000" stroke-width="1.05"/>
<circle cx="651.40" cy="358.27" r="2.2" fill="none" stroke="#000" stroke-width="1.05"/>
<circle cx="651.40" cy="359.89" r="2.2" fill="none" stroke="#000" stroke-width="1.05"/>
<circle cx="651.40" cy="361.51" r="2.2" fill="none" stroke="#000" stroke-width="1.05"/>
<circle cx="651.40" cy="363.13" r="2.2" fill="none" stroke="#000" stroke-width="1.05"/>
<circle cx="651.40" cy="364.75" r="2.2" fill="none" stroke="#000" stroke-width="1.05"/>
<circle cx="651.40" cy="366.37" r="2.2" fill="none" stroke="#000" stroke-width="1.05"/>
<circle cx="651.40" cy="367.99" r="2.2" fill="none" stroke="#000" stroke-width="1.05"/>
<circle cx="651.40" cy="369.61" r="2.2" fill="none" stroke="#000" stroke-width="1.05"/>
<rect x="50.7" y="0.5" width="633.1999999999999" height="389.4" fill="none" stroke="#000" stroke-width="1.25"/>
<line x1="44.2" y1="375.55" x2="50.7" y2="375.55" stroke="#000" stroke-width="0.95"/>
<text x="41.900000000000006" y="379.45" font-size="11.3" text-anchor="end">0</text>
<line x1="44.2" y1="321.55" x2="50.7" y2="321.55" stroke="#000" stroke-width="0.95"/>
<text x="41.900000000000006" y="325.45" font-size="11.3" text-anchor="end">10</text>
<line x1="44.2" y1="267.55" x2="50.7" y2="267.55" stroke="#000" stroke-width="0.95"/>
<text x="41.900000000000006" y="271.45" font-size="11.3" text-anchor="end">20</text>
<line x1="44.2" y1="213.55" x2="50.7" y2="213.55" stroke="#000" stroke-width="0.95"/>
<text x="41.900000000000006" y="217.45" font-size="11.3" text-anchor="end">30</text>
<line x1="44.2" y1="159.55" x2="50.7" y2="159.55" stroke="#000" stroke-width="0.95"/>
<text x="41.900000000000006" y="163.45" font-size="11.3" text-anchor="end">40</text>
<line x1="44.2" y1="105.55" x2="50.7" y2="105.55" stroke="#000" stroke-width="0.95"/>
<text x="41.900000000000006" y="109.45" font-size="11.3" text-anchor="end">50</text>
<line x1="44.2" y1="51.55" x2="50.7" y2="51.55" stroke="#000" stroke-width="0.95"/>
<text x="41.900000000000006" y="55.45" font-size="11.3" text-anchor="end">60</text>
<line x1="83.70" y1="389.9" x2="83.70" y2="396.7" stroke="#000" stroke-width="0.95"/>
<text transform="translate(85.50,401.50) rotate(-29.5)" x="0" y="2.9" font-size="8.97" font-style="italic" text-anchor="end">Bacteroides</text>
<line x1="103.28" y1="389.9" x2="103.28" y2="396.7" stroke="#000" stroke-width="0.95"/>
<text transform="translate(105.08,401.50) rotate(-29.5)" x="0" y="2.9" font-size="8.97" font-style="italic" text-anchor="end">Prevotella 9</text>
<line x1="122.85" y1="389.9" x2="122.85" y2="396.7" stroke="#000" stroke-width="0.95"/>
<text transform="translate(124.65,401.50) rotate(-29.5)" x="0" y="2.9" font-size="8.97" font-style="italic" text-anchor="end">Faecalibacterium</text>
<line x1="142.43" y1="389.9" x2="142.43" y2="396.7" stroke="#000" stroke-width="0.95"/>
<text transform="translate(144.23,401.50) rotate(-29.5)" x="0" y="2.9" font-size="8.97" font-style="italic" text-anchor="end">Fusobacterium</text>
<line x1="162.00" y1="389.9" x2="162.00" y2="396.7" stroke="#000" stroke-width="0.95"/>
<text transform="translate(163.80,401.50) rotate(-29.5)" x="0" y="2.9" font-size="8.97" font-style="italic" text-anchor="end">Prevotella 2</text>
<line x1="181.58" y1="389.9" x2="181.58" y2="396.7" stroke="#000" stroke-width="0.95"/>
<text transform="translate(183.38,401.50) rotate(-29.5)" x="0" y="2.9" font-size="8.97" font-style="italic" text-anchor="end">Escherichia-Shigella</text>
<line x1="201.16" y1="389.9" x2="201.16" y2="396.7" stroke="#000" stroke-width="0.95"/>
<text transform="translate(202.96,401.50) rotate(-29.5)" x="0" y="2.9" font-size="8.97" font-style="italic" text-anchor="end">Phascolarctobacterium</text>
<line x1="220.73" y1="389.9" x2="220.73" y2="396.7" stroke="#000" stroke-width="0.95"/>
<text transform="translate(222.53,401.50) rotate(-29.5)" x="0" y="2.9" font-size="8.97" font-style="italic" text-anchor="end">Roseburia</text>
<line x1="240.31" y1="389.9" x2="240.31" y2="396.7" stroke="#000" stroke-width="0.95"/>
<text transform="translate(242.11,401.50) rotate(-29.5)" x="0" y="2.9" font-size="8.97" font-style="italic" text-anchor="end">Alistipes</text>
<line x1="259.88" y1="389.9" x2="259.88" y2="396.7" stroke="#000" stroke-width="0.95"/>
<text transform="translate(261.68,401.50) rotate(-29.5)" x="0" y="2.9" font-size="8.97" font-style="italic" text-anchor="end">Akkermansia</text>
<line x1="279.46" y1="389.9" x2="279.46" y2="396.7" stroke="#000" stroke-width="0.95"/>
<text transform="translate(281.26,401.50) rotate(-29.5)" x="0" y="2.9" font-size="8.97" font-style="italic" text-anchor="end">Ruminococcaceae UCG-002</text>
<line x1="299.04" y1="389.9" x2="299.04" y2="396.7" stroke="#000" stroke-width="0.95"/>
<text transform="translate(300.84,401.50) rotate(-29.5)" x="0" y="2.9" font-size="8.97" font-style="italic" text-anchor="end">[Eubacterium] eligens group</text>
<line x1="318.61" y1="389.9" x2="318.61" y2="396.7" stroke="#000" stroke-width="0.95"/>
<text transform="translate(320.41,401.50) rotate(-29.5)" x="0" y="2.9" font-size="8.97" font-style="italic" text-anchor="end">Lachnospiraceae NK4A136 group</text>
<line x1="338.19" y1="389.9" x2="338.19" y2="396.7" stroke="#000" stroke-width="0.95"/>
<text transform="translate(339.99,401.50) rotate(-29.5)" x="0" y="2.9" font-size="8.97" font-style="italic" text-anchor="end">Sutterella</text>
<line x1="357.76" y1="389.9" x2="357.76" y2="396.7" stroke="#000" stroke-width="0.95"/>
<text transform="translate(359.56,401.50) rotate(-29.5)" x="0" y="2.9" font-size="8.97" font-style="italic" text-anchor="end">Agathobacter</text>
<line x1="377.34" y1="389.9" x2="377.34" y2="396.7" stroke="#000" stroke-width="0.95"/>
<text transform="translate(379.14,401.50) rotate(-29.5)" x="0" y="2.9" font-size="8.97" font-style="italic" text-anchor="end">Megamonas</text>
<line x1="396.92" y1="389.9" x2="396.92" y2="396.7" stroke="#000" stroke-width="0.95"/>
<text transform="translate(398.72,401.50) rotate(-29.5)" x="0" y="2.9" font-size="8.97" font-style="italic" text-anchor="end">[Eubacterium] coprostanoligenes group</text>
<line x1="416.49" y1="389.9" x2="416.49" y2="396.7" stroke="#000" stroke-width="0.95"/>
<text transform="translate(418.29,401.50) rotate(-29.5)" x="0" y="2.9" font-size="8.97" font-style="italic" text-anchor="end">Klebsiella</text>
<line x1="436.07" y1="389.9" x2="436.07" y2="396.7" stroke="#000" stroke-width="0.95"/>
<text transform="translate(437.87,401.50) rotate(-29.5)" x="0" y="2.9" font-size="8.97" font-style="italic" text-anchor="end">Parabacteroides</text>
<line x1="455.64" y1="389.9" x2="455.64" y2="396.7" stroke="#000" stroke-width="0.95"/>
<text transform="translate(457.44,401.50) rotate(-29.5)" x="0" y="2.9" font-size="8.97" font-style="italic" text-anchor="end">Lachnospira</text>
<line x1="475.22" y1="389.9" x2="475.22" y2="396.7" stroke="#000" stroke-width="0.95"/>
<text transform="translate(477.02,401.50) rotate(-29.5)" x="0" y="2.9" font-size="8.97" font-style="italic" text-anchor="end">Alloprevotella</text>
<line x1="494.80" y1="389.9" x2="494.80" y2="396.7" stroke="#000" stroke-width="0.95"/>
<text transform="translate(496.60,401.50) rotate(-29.5)" x="0" y="2.9" font-size="8.97" font-style="italic" text-anchor="end">Subdoligranulum</text>
<line x1="514.37" y1="389.9" x2="514.37" y2="396.7" stroke="#000" stroke-width="0.95"/>
<text transform="translate(516.17,401.50) rotate(-29.5)" x="0" y="2.9" font-size="8.97" font-style="italic" text-anchor="end">Succinivibrio</text>
<line x1="533.95" y1="389.9" x2="533.95" y2="396.7" stroke="#000" stroke-width="0.95"/>
<text transform="translate(535.75,401.50) rotate(-29.5)" x="0" y="2.9" font-size="8.97" font-style="italic" text-anchor="end">Dialister</text>
<line x1="553.52" y1="389.9" x2="553.52" y2="396.7" stroke="#000" stroke-width="0.95"/>
<text transform="translate(555.32,401.50) rotate(-29.5)" x="0" y="2.9" font-size="8.97" font-style="italic" text-anchor="end">Odoribacter</text>
<line x1="573.10" y1="389.9" x2="573.10" y2="396.7" stroke="#000" stroke-width="0.95"/>
<text transform="translate(574.90,401.50) rotate(-29.5)" x="0" y="2.9" font-size="8.97" font-style="italic" text-anchor="end">Blautia</text>
<line x1="592.68" y1="389.9" x2="592.68" y2="396.7" stroke="#000" stroke-width="0.95"/>
<text transform="translate(594.48,401.50) rotate(-29.5)" x="0" y="2.9" font-size="8.97" font-style="italic" text-anchor="end">[Eubacterium] ruminantium group</text>
<line x1="612.25" y1="389.9" x2="612.25" y2="396.7" stroke="#000" stroke-width="0.95"/>
<text transform="translate(614.05,401.50) rotate(-29.5)" x="0" y="2.9" font-size="8.97" font-style="italic" text-anchor="end">Paraprevotella</text>
<line x1="631.83" y1="389.9" x2="631.83" y2="396.7" stroke="#000" stroke-width="0.95"/>
<text transform="translate(633.63,401.50) rotate(-29.5)" x="0" y="2.9" font-size="8.97" font-style="italic" text-anchor="end">Lachnoclostridium</text>
<line x1="651.40" y1="389.9" x2="651.40" y2="396.7" stroke="#000" stroke-width="0.95"/>
<text transform="translate(653.20,401.50) rotate(-29.5)" x="0" y="2.9" font-size="8.97" font-style="italic" text-anchor="end">Enterobacter</text>
<text transform="translate(11.3,188.1) rotate(-90)" font-size="14.25" text-anchor="middle">Genus level relative abundance (%)</text>
<line x1="466.70" y1="7.44" x2="466.70" y2="42.39" stroke="#000" stroke-width="0.95" stroke-dasharray="3.3 4.5"/>
<line x1="466.70" y1="115.72" x2="466.70" y2="73.05" stroke="#000" stroke-width="0.95" stroke-dasharray="3.3 4.5"/>
<line x1="461.12" y1="7.44" x2="472.27" y2="7.44" stroke="#000" stroke-width="0.95"/>
<line x1="461.12" y1="115.72" x2="472.27" y2="115.72" stroke="#000" stroke-width="0.95"/>
<rect x="455.55" y="42.39" width="22.30" height="30.66" fill="#FF0000" stroke="#000" stroke-width="0.95"/>
<line x1="455.55" y1="52.25" x2="477.85" y2="52.25" stroke="#000" stroke-width="2.7"/>
<line x1="494.50" y1="46.68" x2="494.50" y2="80.34" stroke="#000" stroke-width="0.95" stroke-dasharray="3.3 4.5"/>
<line x1="494.50" y1="141.66" x2="494.50" y2="105.21" stroke="#000" stroke-width="0.95" stroke-dasharray="3.3 4.5"/>
<line x1="488.93" y1="46.68" x2="500.07" y2="46.68" stroke="#000" stroke-width="0.95"/>
<line x1="488.93" y1="141.66" x2="500.07" y2="141.66" stroke="#000" stroke-width="0.95"/>
<rect x="483.35" y="80.34" width="22.30" height="24.87" fill="#FFBF00" stroke="#000" stroke-width="0.95"/>
<line x1="483.35" y1="94.28" x2="505.65" y2="94.28" stroke="#000" stroke-width="2.7"/>
<circle cx="494.50" cy="143.59" r="1.0" fill="none" stroke="#000" stroke-width="1.15"/>
<line x1="522.30" y1="124.29" x2="522.30" y2="142.73" stroke="#000" stroke-width="0.95" stroke-dasharray="3.3 4.5"/>
<line x1="522.30" y1="164.92" x2="522.30" y2="157.74" stroke="#000" stroke-width="0.95" stroke-dasharray="3.3 4.5"/>
<line x1="516.72" y1="124.29" x2="527.88" y2="124.29" stroke="#000" stroke-width="0.95"/>
<line x1="516.72" y1="164.92" x2="527.88" y2="164.92" stroke="#000" stroke-width="0.95"/>
<rect x="511.15" y="142.73" width="22.30" height="15.01" fill="#80FF00" stroke="#000" stroke-width="0.95"/>
<line x1="511.15" y1="151.74" x2="533.45" y2="151.74" stroke="#000" stroke-width="2.7"/>
<circle cx="522.30" cy="109.50" r="1.0" fill="none" stroke="#000" stroke-width="1.15"/>
<circle cx="522.30" cy="110.89" r="1.0" fill="none" stroke="#000" stroke-width="1.15"/>
<circle cx="522.30" cy="112.29" r="1.0" fill="none" stroke="#000" stroke-width="1.15"/>
<circle cx="522.30" cy="113.68" r="1.0" fill="none" stroke="#000" stroke-width="1.15"/>
<circle cx="522.30" cy="115.07" r="1.0" fill="none" stroke="#000" stroke-width="1.15"/>
<circle cx="522.30" cy="116.47" r="1.0" fill="none" stroke="#000" stroke-width="1.15"/>
<circle cx="522.30" cy="117.86" r="1.0" fill="none" stroke="#000" stroke-width="1.15"/>
<circle cx="522.30" cy="119.25" r="1.0" fill="none" stroke="#000" stroke-width="1.15"/>
<circle cx="522.30" cy="120.65" r="1.0" fill="none" stroke="#000" stroke-width="1.15"/>
<line x1="550.10" y1="139.51" x2="550.10" y2="155.06" stroke="#000" stroke-width="0.95" stroke-dasharray="3.3 4.5"/>
<line x1="544.52" y1="139.51" x2="555.68" y2="139.51" stroke="#000" stroke-width="0.95"/>
<line x1="544.52" y1="166.10" x2="555.68" y2="166.10" stroke="#000" stroke-width="0.95"/>
<rect x="538.95" y="155.06" width="22.30" height="11.26" fill="#00FF40" stroke="#000" stroke-width="0.95"/>
<line x1="538.95" y1="164.49" x2="561.25" y2="164.49" stroke="#000" stroke-width="2.7"/>
<circle cx="550.10" cy="110.57" r="1.0" fill="none" stroke="#000" stroke-width="1.15"/>
<circle cx="550.10" cy="115.07" r="1.0" fill="none" stroke="#000" stroke-width="1.15"/>
<circle cx="550.10" cy="117.22" r="1.0" fill="none" stroke="#000" stroke-width="1.15"/>
<circle cx="550.10" cy="122.79" r="1.0" fill="none" stroke="#000" stroke-width="1.15"/>
<circle cx="550.10" cy="124.29" r="1.0" fill="none" stroke="#000" stroke-width="1.15"/>
<circle cx="550.10" cy="125.79" r="1.0" fill="none" stroke="#000" stroke-width="1.15"/>
<circle cx="550.10" cy="127.29" r="1.0" fill="none" stroke="#000" stroke-width="1.15"/>
<circle cx="550.10" cy="128.79" r="1.0" fill="none" stroke="#000" stroke-width="1.15"/>
<circle cx="550.10" cy="130.30" r="1.0" fill="none" stroke="#000" stroke-width="1.15"/>
<circle cx="550.10" cy="131.80" r="1.0" fill="none" stroke="#000" stroke-width="1.15"/>
<circle cx="550.10" cy="133.30" r="1.0" fill="none" stroke="#000" stroke-width="1.15"/>
<circle cx="550.10" cy="134.80" r="1.0" fill="none" stroke="#000" stroke-width="1.15"/>
<circle cx="550.10" cy="136.30" r="1.0" fill="none" stroke="#000" stroke-width="1.15"/>
<circle cx="550.10" cy="137.80" r="1.0" fill="none" stroke="#000" stroke-width="1.15"/>
<line x1="577.90" y1="163.53" x2="577.90" y2="164.81" stroke="#000" stroke-width="0.95" stroke-dasharray="3.3 4.5"/>
<line x1="572.32" y1="163.53" x2="583.48" y2="163.53" stroke="#000" stroke-width="0.95"/>
<line x1="572.32" y1="166.10" x2="583.48" y2="166.10" stroke="#000" stroke-width="0.95"/>
<rect x="566.75" y="164.81" width="22.30" height="2.14" fill="#00FF66" stroke="#000" stroke-width="0.95"/>
<line x1="566.75" y1="165.89" x2="589.05" y2="165.89" stroke="#000" stroke-width="2.7"/>
<circle cx="577.90" cy="111.64" r="1.0" fill="none" stroke="#000" stroke-width="1.15"/>
<circle cx="577.90" cy="112.50" r="1.0" fill="none" stroke="#000" stroke-width="1.15"/>
<circle cx="577.90" cy="123.43" r="1.0" fill="none" stroke="#000" stroke-width="1.15"/>
<circle cx="577.90" cy="134.80" r="1.0" fill="none" stroke="#000" stroke-width="1.15"/>
<circle cx="577.90" cy="136.94" r="1.0" fill="none" stroke="#000" stroke-width="1.15"/>
<circle cx="577.90" cy="145.73" r="1.0" fill="none" stroke="#000" stroke-width="1.15"/>
<circle cx="577.90" cy="146.91" r="1.0" fill="none" stroke="#000" stroke-width="1.15"/>
<circle cx="577.90" cy="148.09" r="1.0" fill="none" stroke="#000" stroke-width="1.15"/>
<circle cx="577.90" cy="149.27" r="1.0" fill="none" stroke="#000" stroke-width="1.15"/>
<circle cx="577.90" cy="150.45" r="1.0" fill="none" stroke="#000" stroke-width="1.15"/>
<circle cx="577.90" cy="151.63" r="1.0" fill="none" stroke="#000" stroke-width="1.15"/>
<circle cx="577.90" cy="152.81" r="1.0" fill="none" stroke="#000" stroke-width="1.15"/>
<circle cx="577.90" cy="153.99" r="1.0" fill="none" stroke="#000" stroke-width="1.15"/>
<circle cx="577.90" cy="155.17" r="1.0" fill="none" stroke="#000" stroke-width="1.15"/>
<circle cx="577.90" cy="156.34" r="1.0" fill="none" stroke="#000" stroke-width="1.15"/>
<circle cx="577.90" cy="157.52" r="1.0" fill="none" stroke="#000" stroke-width="1.15"/>
<circle cx="577.90" cy="158.70" r="1.0" fill="none" stroke="#000" stroke-width="1.15"/>
<circle cx="577.90" cy="159.88" r="1.0" fill="none" stroke="#000" stroke-width="1.15"/>
<circle cx="577.90" cy="161.06" r="1.0" fill="none" stroke="#000" stroke-width="1.15"/>
<line x1="605.70" y1="163.96" x2="605.70" y2="165.03" stroke="#000" stroke-width="0.95" stroke-dasharray="3.3 4.5"/>
<line x1="600.12" y1="163.96" x2="611.28" y2="163.96" stroke="#000" stroke-width="0.95"/>
<line x1="600.12" y1="166.10" x2="611.28" y2="166.10" stroke="#000" stroke-width="0.95"/>
<rect x="594.55" y="165.03" width="22.30" height="1.93" fill="#FFBF00" stroke="#000" stroke-width="0.95"/>
<line x1="594.55" y1="165.89" x2="616.85" y2="165.89" stroke="#000" stroke-width="2.7"/>
<circle cx="605.70" cy="129.65" r="1.0" fill="none" stroke="#000" stroke-width="1.15"/>
<circle cx="605.70" cy="157.74" r="1.0" fill="none" stroke="#000" stroke-width="1.15"/>
<circle cx="605.70" cy="158.81" r="1.0" fill="none" stroke="#000" stroke-width="1.15"/>
<circle cx="605.70" cy="159.88" r="1.0" fill="none" stroke="#000" stroke-width="1.15"/>
<circle cx="605.70" cy="160.95" r="1.0" fill="none" stroke="#000" stroke-width="1.15"/>
<circle cx="605.70" cy="162.03" r="1.0" fill="none" stroke="#000" stroke-width="1.15"/>
<circle cx="605.70" cy="163.10" r="1.0" fill="none" stroke="#000" stroke-width="1.15"/>
<line x1="633.50" y1="165.03" x2="633.50" y2="165.46" stroke="#000" stroke-width="0.95" stroke-dasharray="3.3 4.5"/>
<line x1="627.92" y1="165.03" x2="639.08" y2="165.03" stroke="#000" stroke-width="0.95"/>
<line x1="627.92" y1="166.10" x2="639.08" y2="166.10" stroke="#000" stroke-width="0.95"/>
<rect x="622.35" y="165.46" width="22.30" height="1.50" fill="#FFBF00" stroke="#000" stroke-width="0.95"/>
<line x1="622.35" y1="166.10" x2="644.65" y2="166.10" stroke="#000" stroke-width="2.7"/>
<circle cx="633.50" cy="157.10" r="1.0" fill="none" stroke="#000" stroke-width="1.15"/>
<circle cx="633.50" cy="163.10" r="1.0" fill="none" stroke="#000" stroke-width="1.15"/>
<circle cx="633.50" cy="164.17" r="1.0" fill="none" stroke="#000" stroke-width="1.15"/>
<line x1="661.30" y1="165.03" x2="661.30" y2="165.46" stroke="#000" stroke-width="0.95" stroke-dasharray="3.3 4.5"/>
<line x1="655.72" y1="165.03" x2="666.88" y2="165.03" stroke="#000" stroke-width="0.95"/>
<line x1="655.72" y1="166.10" x2="666.88" y2="166.10" stroke="#000" stroke-width="0.95"/>
<rect x="650.15" y="165.46" width="22.30" height="1.50" fill="#FFBF00" stroke="#000" stroke-width="0.95"/>
<line x1="650.15" y1="166.10" x2="672.45" y2="166.10" stroke="#000" stroke-width="2.7"/>
<circle cx="661.30" cy="160.31" r="1.0" fill="none" stroke="#000" stroke-width="1.15"/>
<circle cx="661.30" cy="163.10" r="1.0" fill="none" stroke="#000" stroke-width="1.15"/>
<circle cx="661.30" cy="164.17" r="1.0" fill="none" stroke="#000" stroke-width="1.15"/>
<path d="M443.6 0.5 V172.0 H683.9" fill="none" stroke="#000" stroke-width="1.1"/>
<line x1="440.40000000000003" y1="166.10" x2="443.6" y2="166.10" stroke="#000" stroke-width="0.95"/>
<text x="438.8" y="170.70" font-size="12" text-anchor="end">0</text>
<line x1="440.40000000000003" y1="123.22" x2="443.6" y2="123.22" stroke="#000" stroke-width="0.95"/>
<text x="438.8" y="127.82" font-size="12" text-anchor="end">20</text>
<line x1="440.40000000000003" y1="80.34" x2="443.6" y2="80.34" stroke="#000" stroke-width="0.95"/>
<text x="438.8" y="84.94" font-size="12" text-anchor="end">40</text>
<line x1="440.40000000000003" y1="37.46" x2="443.6" y2="37.46" stroke="#000" stroke-width="0.95"/>
<text x="438.8" y="42.06" font-size="12" text-anchor="end">60</text>
<line x1="466.70" y1="172.0" x2="466.70" y2="175.6" stroke="#000" stroke-width="0.95"/>
<text transform="translate(469.10,177.0) rotate(-90)" font-size="9.05" text-anchor="end">Bacteroidetes</text>
<line x1="494.50" y1="172.0" x2="494.50" y2="175.6" stroke="#000" stroke-width="0.95"/>
<text transform="translate(496.90,177.0) rotate(-90)" font-size="9.05" text-anchor="end">Firmicutes</text>
<line x1="522.30" y1="172.0" x2="522.30" y2="175.6" stroke="#000" stroke-width="0.95"/>
<text transform="translate(524.70,177.0) rotate(-90)" font-size="9.05" text-anchor="end">Proteobacteria</text>
<line x1="550.10" y1="172.0" x2="550.10" y2="175.6" stroke="#000" stroke-width="0.95"/>
<text transform="translate(552.50,177.0) rotate(-90)" font-size="9.05" text-anchor="end">Fusobacteria</text>
<line x1="577.90" y1="172.0" x2="577.90" y2="175.6" stroke="#000" stroke-width="0.95"/>
<text transform="translate(580.30,177.0) rotate(-90)" font-size="9.05" text-anchor="end">Verrucomicrobia</text>
<line x1="605.70" y1="172.0" x2="605.70" y2="175.6" stroke="#000" stroke-width="0.95"/>
<text transform="translate(608.10,177.0) rotate(-90)" font-size="9.05" text-anchor="end">Actinobacteria</text>
<line x1="633.50" y1="172.0" x2="633.50" y2="175.6" stroke="#000" stroke-width="0.95"/>
<text transform="translate(635.90,177.0) rotate(-90)" font-size="9.05" text-anchor="end">Lentisphaerae</text>
<line x1="661.30" y1="172.0" x2="661.30" y2="175.6" stroke="#000" stroke-width="0.95"/>
<text transform="translate(663.70,177.0) rotate(-90)" font-size="9.05" text-anchor="end">Other</text>
<text transform="translate(399.3,88.0) rotate(-90)" font-size="11.85" text-anchor="middle">Phylum level</text>
<text transform="translate(413.2,86.9) rotate(-90)" font-size="12" text-anchor="middle">relative abundance (%)</text>
</svg>
</body></html>
